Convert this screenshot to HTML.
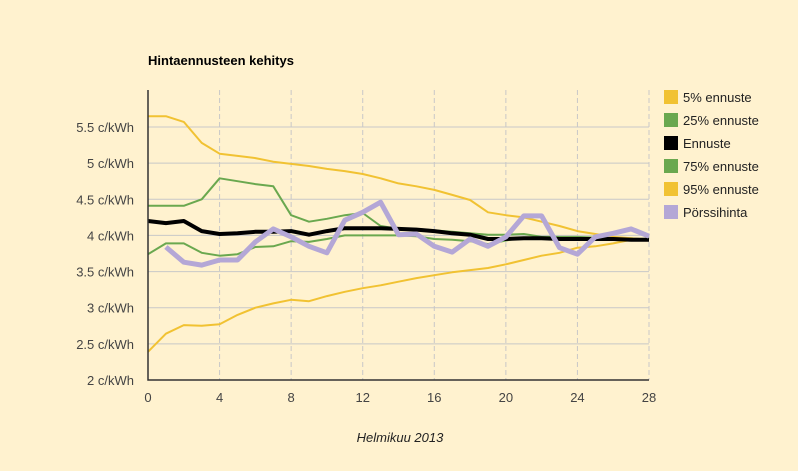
<!DOCTYPE html>
<html><head><meta charset="utf-8"><style>
body{margin:0;background:#fff2cf;}
svg{display:block;font-family:"Liberation Sans",sans-serif;}
</style></head><body>
<svg id="c" width="798" height="471">
<rect width="798" height="471" fill="#fff2cf"/>
<text x="148" y="65" font-size="13" font-weight="bold" fill="#000">Hintaennusteen kehitys</text>
<text x="400" y="442" font-size="13" font-style="italic" fill="#222" text-anchor="middle">Helmikuu 2013</text>
<g id="grid"></g><g id="series"></g><g id="axes"></g><g id="legend"></g>
</svg>
<script>
const days=[0,1,2,3,4,5,6,7,8,9,10,11,12,13,14,15,16,17,18,19,20,21,22,23,24,25,26,27,28];
const yTicks=[2,2.5,3,3.5,4,4.5,5,5.5];
const xTicks=[0,4,8,12,16,20,24,28];
const p5=[2.39,2.64,2.76,2.75,2.77,2.90,3.00,3.06,3.11,3.09,3.16,3.22,3.27,3.31,3.36,3.41,3.45,3.49,3.52,3.55,3.60,3.66,3.72,3.76,3.83,3.85,3.89,3.94,3.94];
const p25=[3.74,3.89,3.89,3.76,3.72,3.74,3.84,3.85,3.92,3.91,3.95,4.00,4.00,4.00,4.00,3.99,3.95,3.94,3.92,3.88,3.93,3.97,3.96,3.96,3.96,3.96,3.95,3.95,3.94];
const mid=[4.20,4.17,4.20,4.06,4.02,4.03,4.05,4.05,4.06,4.01,4.06,4.10,4.10,4.10,4.09,4.08,4.06,4.03,4.01,3.95,3.95,3.96,3.96,3.95,3.95,3.95,3.95,3.94,3.94];
const p75=[4.41,4.41,4.41,4.50,4.79,4.75,4.71,4.68,4.28,4.19,4.23,4.28,4.31,4.13,4.09,4.09,4.07,4.05,4.03,4.01,4.01,4.02,3.98,3.98,3.98,3.97,3.96,3.96,3.94];
const p95=[5.65,5.65,5.57,5.28,5.13,5.10,5.07,5.02,4.99,4.96,4.92,4.89,4.85,4.79,4.72,4.68,4.63,4.56,4.49,4.32,4.28,4.25,4.19,4.13,4.06,4.02,3.98,3.96,3.94];
const spot=[null,3.84,3.63,3.59,3.66,3.66,3.91,4.09,3.98,3.85,3.76,4.21,4.32,4.46,4.01,4.02,3.85,3.77,3.95,3.85,3.98,4.27,4.27,3.83,3.74,3.98,4.03,4.09,3.99];
const NS='http://www.w3.org/2000/svg';
const X0=148,X1=649,Y0=380,Y1=127;
const xs=d=>X0+(X1-X0)*d/28;
const ys=v=>Y0-(Y0-Y1)*(v-2)/3.5;
function mk(t,a,p){const e=document.createElementNS(NS,t);for(const k in a)e.setAttribute(k,a[k]);document.getElementById(p).appendChild(e);return e;}
yTicks.forEach(v=>{
  if(v>2){const l=mk('line',{x1:X0,x2:X1,y1:ys(v),y2:ys(v),stroke:'#c8c8c8','stroke-width':1},'grid');
  
  }
  const t=mk('text',{x:134,y:ys(v)+5,'font-size':13,fill:'#444','text-anchor':'end'},'axes');
  t.textContent=(String(v)).replace('.', '.')+' c/kWh';
  
  
});
xTicks.forEach(d=>{
  if(d>0){const l=mk('line',{x1:xs(d),x2:xs(d),y1:90,y2:Y0,stroke:'#c8c8c8','stroke-width':1,'stroke-dasharray':'5,3'},'grid');
  
  }
  const t=mk('text',{x:xs(d),y:402,'font-size':13,fill:'#444','text-anchor':'middle'},'axes');
  t.textContent=d;
  
  
});
const ax=mk('path',{d:`M${X0},90V${Y0}H${X1}`,fill:'none',stroke:'#333','stroke-width':1.5},'axes');


const S=[
 {n:'5% ennuste',d:p5,c:'#f1c232',w:2,id:'series-5pct'},
 {n:'25% ennuste',d:p25,c:'#6aa84f',w:2,id:'series-25pct'},
 {n:'75% ennuste',d:p75,c:'#6aa84f',w:2,id:'series-75pct'},
 {n:'95% ennuste',d:p95,c:'#f1c232',w:2,id:'series-95pct'},
 {n:'Ennuste',d:mid,c:'#000',w:4,id:'series-forecast'},
 {n:'Pörssihinta',d:spot,c:'#b4a7d6',w:5,id:'series-spot-price'}];
S.forEach(s=>{
  let dd='';s.d.forEach((v,i)=>{if(v==null)return;dd+=(dd?'L':'M')+xs(days[i]).toFixed(1)+','+ys(v).toFixed(1);});
  const p=mk('path',{d:dd,fill:'none',stroke:s.c,'stroke-width':s.w,'stroke-linejoin':'round'},'series');
  
  
});
const L=[['5% ennuste','#f1c232'],['25% ennuste','#6aa84f'],['Ennuste','#000'],['75% ennuste','#6aa84f'],['95% ennuste','#f1c232'],['Pörssihinta','#b4a7d6']];
L.forEach((l,i)=>{
  const y=97+i*23;
  const r=mk('rect',{x:664,y:y-7,width:14,height:14,fill:l[1]},'legend');
  
  
  const t=mk('text',{x:683,y:y+5,'font-size':13,fill:'#222'},'legend');
  t.textContent=l[0];
  
  
});
</script>
</body></html>
